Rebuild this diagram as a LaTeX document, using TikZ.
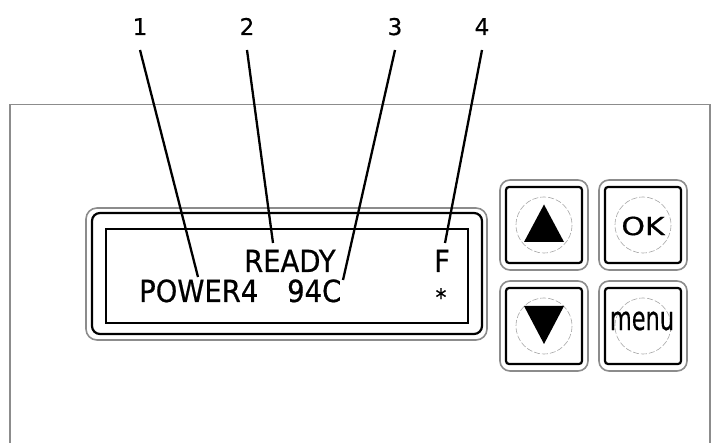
\documentclass[tikz,border=0pt]{standalone}
\usepackage{fontspec}
\setmainfont{DejaVu Sans}[FakeBold=0.6]
\newfontfamily\condfont{DejaVu Sans Condensed}[FakeBold=0.6]
\begin{document}
\begin{tikzpicture}[x=1pt,y=-1pt,
  panel/.style={draw=black!45,line width=1.4pt},
  grayround/.style={draw=black!45,line width=1.6pt,rounded corners=11pt},
  blackround/.style={draw=black,line width=2.2pt,rounded corners=8pt},
  blackrect/.style={draw=black,line width=2.2pt},
  btnrect/.style={draw=black,line width=2.2pt,rounded corners=3pt},
  dashcirc/.style={draw=black!35,line width=0.6pt,dash pattern=on 6pt off 2pt},
  leader/.style={draw=black,line width=2.3pt},
  num/.style={font=\fontsize{23}{23}\selectfont,inner sep=0pt,text height=17pt,text depth=0pt,outer sep=0pt,minimum height=0pt},
  lcd/.style={font=\condfont\fontsize{30.5}{30.5}\selectfont,inner sep=0pt,anchor=base west}
]
\useasboundingbox (0,0) rectangle (715,443);
% outer panel
\draw[panel] (10,450) -- (10,104.5) -- (710,104.5) -- (710,450);
% LCD frame
\draw[grayround] (86,208) rectangle (487,340);
\draw[blackround] (92,213) rectangle (482,334);
\draw[blackrect] (106,229) rectangle (468,323);
% LCD texts
\node[lcd] (ready) at (244,272) {READY};
\node[lcd] (f) at (434,272) {F};
\node[lcd] (power) at (139,302) {POWER4};
\node[lcd] (temp) at (287,302) {94C};
\node[font=\condfont\fontsize{24}{24}\selectfont,inner sep=0pt] (star) at (441,297) {*};
% leader end points
\coordinate (e1) at (198,277);
\coordinate (e2) at (273,243);
\coordinate (e3) at (343,280);
\coordinate (e4) at (445,243);
% numbers
\node[num] (n1) at (140,18) [anchor=north] {1};
\node[num] (n2) at (247,18) [anchor=north] {2};
\node[num] (n3) at (395,18) [anchor=north] {3};
\node[num] (n4) at (482,18) [anchor=north] {4};
\draw[leader] ([yshift=-15pt]n1.south) -- (e1);
\draw[leader] ([yshift=-15pt]n2.south) -- (e2);
\draw[leader] ([yshift=-15pt]n3.south) -- (e3);
\draw[leader] ([yshift=-15pt]n4.south) -- (e4);
% buttons
\foreach \cx/\cy in {544/225, 643/225, 544/326, 643/326}{
  \draw[grayround,rounded corners=10pt] (\cx-44,\cy-45) rectangle (\cx+44,\cy+45);
  \draw[btnrect] (\cx-38,\cy-38) rectangle (\cx+38,\cy+38);
  \draw[dashcirc] (\cx,\cy) circle (28);
}
\fill (524,242) -- (564,242) -- (544,204.5) -- cycle;
\fill (524,306) -- (564,306) -- (544,344) -- cycle;
\node[font=\fontsize{25}{25}\selectfont,inner sep=0pt,xscale=1.2] (ok) at (643,226) {OK};
\node[font=\fontsize{33}{33}\selectfont,inner sep=0pt,xscale=0.68] (menu) at (642,321) {menu};
\end{tikzpicture}
\end{document}
